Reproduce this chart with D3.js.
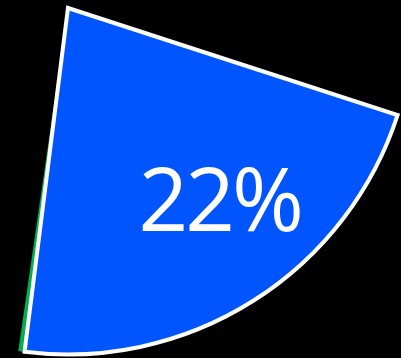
<!DOCTYPE html>
<html>
<head>
<meta charset="utf-8">
<script src="https://cdn.jsdelivr.net/npm/d3@7"></script>
<style>
  html, body { margin: 0; padding: 0; background: #000; }
  svg { display: block; }
</style>
</head>
<body>
<div id="chart"></div>
<script>
// Share data: the highlighted slice and the remainder
const labels = ["22%", "Rest"];
const values = [22, 78];
const colors = ["#0055FF", "#00B050"];

const width = 401, height = 358;
const cx = 68, cy = 8, radius = 346.5;
const deg = Math.PI / 180;

const svg = d3.select("#chart").append("svg")
  .attr("width", width)
  .attr("height", height)
  .style("background", "#000");

const pie = d3.pie().sort(null).startAngle(108 * deg).endAngle(108 * deg + 2 * Math.PI);
const arcs = pie(values);
const arc = d3.arc().innerRadius(0).outerRadius(radius);

const g = svg.append("g").attr("transform", `translate(${cx},${cy})`);

// Leading edge of the remainder slice, peeking out beside the highlighted slice
const rest = arcs[1];
g.append("path")
  .attr("d", arc({ startAngle: rest.startAngle - 0.5 * deg, endAngle: rest.startAngle + 1.05 * deg }))
  .attr("fill", colors[1]);

// Highlighted slice
const main = arcs[0];
g.append("path")
  .attr("d", arc(main))
  .attr("fill", colors[0])
  .attr("stroke", "#fff")
  .attr("stroke-width", 4)
  .attr("stroke-linejoin", "miter");

// Percentage label, placed inside the slice toward its outer edge
const mid = (main.startAngle + main.endAngle) / 2 - 6.3 * deg;
const lr = radius * 0.7;
g.append("text")
  .attr("x", Math.sin(mid) * lr)
  .attr("y", -Math.cos(mid) * lr)
  .attr("text-anchor", "middle")
  .attr("dominant-baseline", "central")
  .attr("fill", "#fff")
  .style("font-family", "'Open Sans', sans-serif")
  .style("font-size", "87px")
  .style("letter-spacing", "-3px")
  .text(labels[0]);
</script>
</body>
</html>
